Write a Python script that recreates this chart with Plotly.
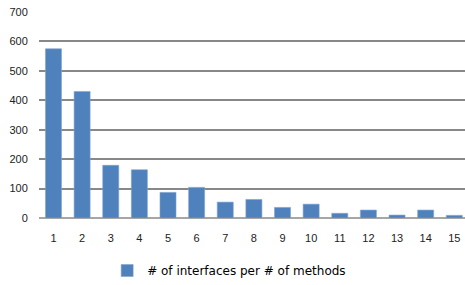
import plotly.graph_objects as go

categories = list(range(1, 16))
values = [575, 430, 179, 164, 87, 104, 54, 63, 36, 47, 16, 27, 10, 27, 9]
series_name = "# of interfaces per # of methods"
y_ticks = [0, 100, 200, 300, 400, 500, 600, 700]

fig = go.Figure()
fig.add_trace(go.Bar(
    x=categories, y=values, name=series_name,
    marker=dict(color="#4F81BD", line=dict(color="#7FA3D2", width=0.6)),
    width=0.56, showlegend=True,
))

fig.update_layout(
    width=465, height=285,
    margin=dict(l=39, r=0, t=12, b=67),
    paper_bgcolor="white", plot_bgcolor="white",
    font=dict(family="Liberation Sans, Arial, sans-serif", size=11, color="#222222"),
    showlegend=True,
    legend=dict(orientation="h", x=0.16, xanchor="left", y=-0.257, yanchor="middle",
                font=dict(family="DejaVu Sans, sans-serif", size=12, color="#000000"),
                itemwidth=30),
    xaxis=dict(range=[0.494, 15.374], tickvals=categories, ticktext=[str(c) for c in categories],
               showgrid=False, zeroline=False, showline=False,
               ticks="outside", ticklen=10, tickcolor="rgba(0,0,0,0)"),
    yaxis=dict(range=[0, 700], tickvals=y_ticks, showgrid=True, gridcolor="#888888", gridwidth=1.8,
               zeroline=True, zerolinecolor="#A6A6A6", zerolinewidth=1.8, showline=False,
               ticks="outside", ticklen=8, tickcolor="rgba(0,0,0,0)"),
)

fig.write_html("out.html", config={"displayModeBar": False},
               post_script="document.body.style.margin='0';")
